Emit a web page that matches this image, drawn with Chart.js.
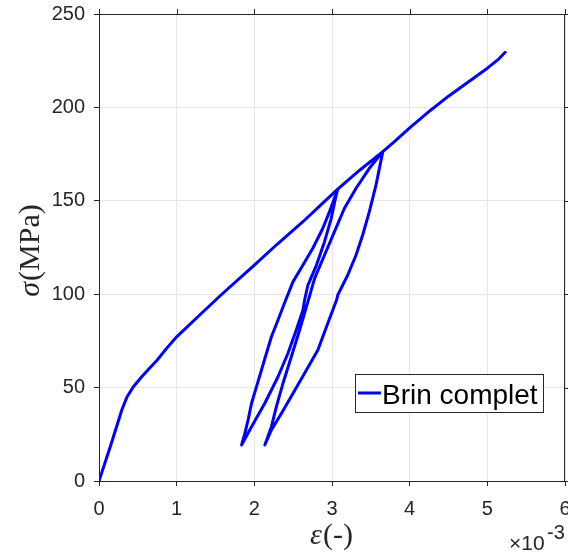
<!DOCTYPE html>
<html>
<head>
<meta charset="utf-8">
<script src="https://cdn.jsdelivr.net/npm/chart.js@4.4.1/dist/chart.umd.min.js"></script>
<style>
  html, body { margin: 0; padding: 0; background: #fff; }
  canvas { display: block; }
</style>
</head>
<body>
<canvas id="chart" width="568" height="556"></canvas>
<script>
// strain in units of 1e-3, stress in MPa, one continuous test path
// first loading up to the first peak
const loadStrain = [0, 0.15, 0.297, 0.36, 0.44, 0.55, 0.63, 0.75, 0.87, 1.0, 1.3, 1.585, 2.0, 2.3, 2.626, 2.85, 3.077];
const loadStress = [0, 19, 38.4, 45, 50.3, 55.8, 59.4, 64.8, 71, 77.2, 89, 100.1, 115.6, 127, 138.8, 147.5, 156.4];

// first unload / reload loop
const unload1Strain = [3.054, 2.99, 2.904, 2.8, 2.69, 2.647, 2.626, 2.54, 2.433, 2.305, 2.135, 1.964, 1.836];
const unload1Stress = [153.2, 140.6, 128.1, 115.6, 104.9, 96.9, 91.5, 80.8, 68.4, 55.8, 41.6, 29.1, 19.3];
const reload1Strain = [1.878, 1.92, 1.964, 2.028, 2.092, 2.156, 2.22, 2.305, 2.4, 2.497, 2.626, 2.753, 2.882, 2.968, 3.077];
const reload1Stress = [25.5, 32.7, 41.6, 50.5, 59.4, 68.4, 77.2, 86.2, 96.5, 106.6, 115.6, 124.6, 135.3, 144.2, 156.4];

// envelope between the two peaks
const midStrain = [3.36, 3.654];
const midStress = [166.5, 176.3];

// second unload / reload loop
const unload2Strain = [3.567, 3.481, 3.395, 3.31, 3.203, 3.075, 3.06, 2.946, 2.818, 2.647, 2.497, 2.348, 2.22, 2.135];
const unload2Stress = [158.5, 144.2, 131.7, 121, 110.3, 99.6, 97, 84.4, 70.1, 57.7, 46.9, 36.2, 27.3, 19.3];
const reload2Strain = [2.22, 2.284, 2.369, 2.476, 2.583, 2.69, 2.776, 2.904, 3.032, 3.16, 3.31, 3.481, 3.654];
const reload2Stress = [29.1, 39.8, 52.3, 66.5, 80.8, 96, 108.5, 121, 133.5, 146, 156.7, 167.4, 176.3];

// final loading to failure
const endStrain = [3.8, 4.0, 4.27, 4.5, 4.75, 5.0, 5.15, 5.23];
const endStress = [181.5, 189, 198.5, 206, 213.5, 221, 226, 229.5];

const xTicks = [0, 1, 2, 3, 4, 5, 6];
const yTicks = [0, 50, 100, 150, 200, 250];
const seriesLabel = 'Brin complet';

const strain = [].concat(loadStrain, unload1Strain, reload1Strain, midStrain, unload2Strain, reload2Strain, endStrain);
const stress = [].concat(loadStress, unload1Stress, reload1Stress, midStress, unload2Stress, reload2Stress, endStress);
const points = strain.map((e, i) => ({ x: e, y: stress[i] }));

const AXIS = '#262626';
const GRID = '#e6e6e6';
const SANS = '"Liberation Sans", Arial, sans-serif';
const SERIF = '"Liberation Serif", "Times New Roman", serif';

// box, mirrored ticks, axis titles, exponent and legend (MATLAB look)
const decorations = {
    id: 'decorations',
    afterDraw(chart) {
        const ctx = chart.ctx;
        const a = chart.chartArea;
        const xs = chart.scales.x, ys = chart.scales.y;
        ctx.save();

        // top and right edges with outward ticks
        ctx.strokeStyle = AXIS;
        ctx.lineWidth = 1;
        ctx.beginPath();
        ctx.moveTo(a.left, a.top + 0.5);
        ctx.lineTo(a.right, a.top + 0.5);
        ctx.moveTo(a.right - 0.5, a.top);
        ctx.lineTo(a.right - 0.5, a.bottom);
        xTicks.forEach(v => {
            const px = Math.round(xs.getPixelForValue(v)) + 0.5;
            ctx.moveTo(px, a.top);
            ctx.lineTo(px, a.top - 5);
        });
        yTicks.forEach(v => {
            const py = Math.round(ys.getPixelForValue(v)) + 0.5;
            ctx.moveTo(a.right, py);
            ctx.lineTo(a.right + 5, py);
        });
        ctx.stroke();

        // y title: sigma (MPa)
        ctx.fillStyle = AXIS;
        ctx.save();
        ctx.translate(31, 251);
        ctx.rotate(-Math.PI / 2);
        ctx.textBaseline = 'middle';
        ctx.font = 'italic 30px ' + SERIF;
        const sw = ctx.measureText('σ').width;
        ctx.font = '30px ' + SERIF;
        const mw = ctx.measureText('(MPa)').width;
        let x0 = -(sw + mw) / 2;
        ctx.textAlign = 'left';
        ctx.font = 'italic 30px ' + SERIF;
        ctx.fillText('σ', x0, 0);
        ctx.font = '30px ' + SERIF;
        ctx.fillText('(MPa)', x0 + sw + 1, 0);
        ctx.restore();

        // x title: epsilon (-)
        ctx.textBaseline = 'alphabetic';
        ctx.textAlign = 'left';
        ctx.font = 'italic 30px ' + SERIF;
        const ew = ctx.measureText('ε').width;
        ctx.font = '30px ' + SERIF;
        const pw = ctx.measureText('(-)').width;
        let ex = 331 - (ew + pw) / 2;
        ctx.font = 'italic 30px ' + SERIF;
        ctx.fillText('ε', ex, 544);
        ctx.font = '30px ' + SERIF;
        ctx.fillText('(-)', ex + ew + 1, 544);

        // exponent label
        ctx.font = '21px ' + SANS;
        ctx.fillText('×10', 509, 550);
        ctx.font = '20px ' + SANS;
        ctx.fillText('-3', 547, 539);

        // legend box
        const lx = 355.5, ly = 374.5, lw = 188, lh = 38;
        ctx.fillStyle = '#fff';
        ctx.fillRect(lx, ly, lw, lh);
        ctx.strokeStyle = AXIS;
        ctx.strokeRect(lx, ly, lw, lh);
        ctx.strokeStyle = '#0000ff';
        ctx.lineWidth = 3;
        ctx.beginPath();
        ctx.moveTo(358, 393);
        ctx.lineTo(381, 393);
        ctx.stroke();
        ctx.fillStyle = '#000';
        ctx.font = '28px ' + SANS;
        ctx.textBaseline = 'alphabetic';
        ctx.fillText(seriesLabel, 382, 404);

        ctx.restore();
    }
};

new Chart(document.getElementById('chart'), {
    type: 'scatter',
    data: {
        datasets: [{
            label: seriesLabel,
            data: points,
            showLine: true,
            borderColor: '#0000ff',
            backgroundColor: '#0000ff',
            borderWidth: 3,
            pointRadius: 0,
            tension: 0,
            borderJoinStyle: 'round',
            borderCapStyle: 'round'
        }]
    },
    options: {
        responsive: false,
        devicePixelRatio: 1,
        animation: false,
        layout: {
            padding: { top: 14, right: 3, left: 0, bottom: 0 }
        },
        plugins: {
            legend: { display: false },
            tooltip: { enabled: false }
        },
        scales: {
            x: {
                type: 'linear',
                min: 0,
                max: 6,
                afterFit: s => { s.height = 75; s.paddingLeft = 0; s.paddingRight = 0; },
                afterBuildTicks: s => { s.ticks = xTicks.map(v => ({ value: v })); },
                grid: { color: GRID, tickColor: AXIS, tickLength: 5 },
                border: { color: AXIS, width: 1 },
                ticks: {
                    color: AXIS,
                    padding: 11,
                    maxRotation: 0,
                    font: { family: SANS, size: 20 }
                }
            },
            y: {
                type: 'linear',
                min: 0,
                max: 250,
                afterFit: s => { s.width = 99; s.paddingTop = 0; s.paddingBottom = 0; },
                afterBuildTicks: s => { s.ticks = yTicks.map(v => ({ value: v })); },
                grid: { color: GRID, tickColor: AXIS, tickLength: 5 },
                border: { color: AXIS, width: 1 },
                ticks: {
                    color: AXIS,
                    padding: 9,
                    font: { family: SANS, size: 20 }
                }
            }
        }
    },
    plugins: [decorations]
});
</script>
</body>
</html>
